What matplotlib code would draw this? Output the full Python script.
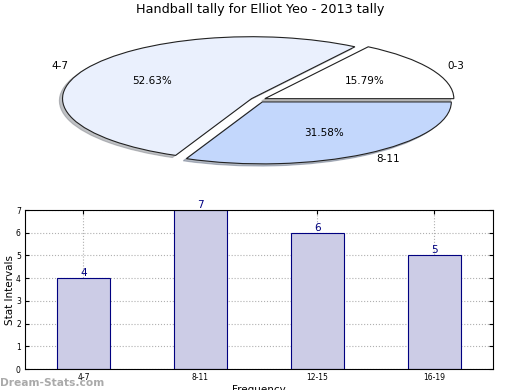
import matplotlib
matplotlib.use("Agg")
import matplotlib.pyplot as plt

# pie data
pie_labels = ["0-3", "4-7", "8-11"]
pie_values = [3, 10, 6]
pie_colors = ["#ffffff", "#eaf0fd", "#c3d7fc"]

# bar data
bar_labels = ["4-7", "8-11", "12-15", "16-19"]
bar_values = [4, 7, 6, 5]

fig = plt.figure(figsize=(5.2, 3.9), dpi=100)

# pie (squashed into an ellipse)
ax1 = fig.add_axes([0.024, 0.5375, 0.945, 0.413])
wedges, texts, autotexts = ax1.pie(
    pie_values, labels=pie_labels, colors=pie_colors, explode=[0.04, 0.04, 0.04],
    autopct="%.2f%%", startangle=0, pctdistance=0.6, labeldistance=1.1,
    shadow={"ox": -0.012, "oy": -0.025, "shade": 0.45},
    wedgeprops={"edgecolor": "#222222", "linewidth": 0.8},
    textprops={"fontsize": 7.5})
ax1.set_aspect("auto")
ax1.set_xlim(-1.3, 1.3)
ax1.set_ylim(-1.3, 1.3)
fig.text(0.5, 1 - 10 / 390, "Handball tally for Elliot Yeo - 2013 tally", fontsize=9.2,
         ha="center", va="center")

# bar chart
ax2 = fig.add_axes([0.048, 0.0538, 0.9, 0.4077])
x = list(range(len(bar_labels)))
ax2.bar(x, bar_values, width=0.45, color="#ccccE6", edgecolor="#000080", linewidth=0.8, zorder=2)
for xi, v in zip(x, bar_values):
    ax2.text(xi, v, str(v), ha="center", va="bottom", color="#000080", fontsize=7.5)
ax2.set_xlim(-0.5, 3.5)
ax2.set_ylim(0, 7)
ax2.set_xticks(x)
ax2.set_xticklabels(bar_labels)
ax2.set_yticks(range(8))
ax2.tick_params(labelsize=5.5, direction="in", top=True, right=True, length=3, pad=3)
ax2.grid(True, linestyle=":", color="#b0b0b0", linewidth=0.8, zorder=0)
ax2.set_axisbelow(True)
ax2.set_ylabel("Stat Intervals", fontsize=7.5, labelpad=0.5)
ax2.set_xlabel("Frequency", fontsize=7.5, labelpad=2)

fig.text(0.0, 0.005, "Dream-Stats.com", fontsize=7.7, color="#aaaaaa", fontweight="bold", ha="left", va="bottom")

fig.savefig("out.png", dpi=100)
